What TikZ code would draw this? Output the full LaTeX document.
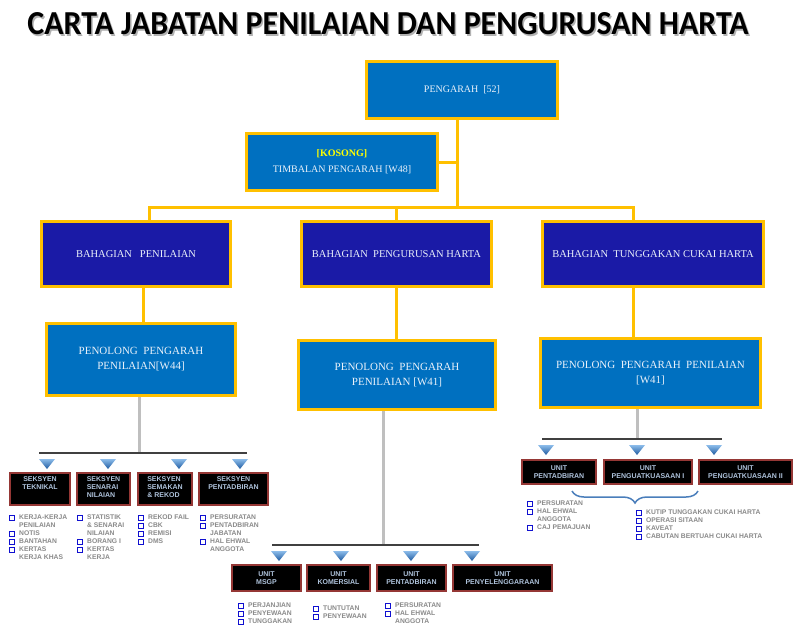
\documentclass[tikz,border=0pt]{standalone}
\usepackage{fontspec}
\setmainfont{Liberation Serif}
\setsansfont{Liberation Sans}
\newfontfamily\titlefont{Carlito}
\usetikzlibrary{decorations.pathreplacing}
\definecolor{boxblue}{HTML}{0070C0}
\definecolor{gold}{HTML}{FFC000}
\definecolor{navy}{RGB}{26,26,166}
\definecolor{darkred}{HTML}{953735}
\definecolor{bustone}{HTML}{404040}
\definecolor{stem}{HTML}{BFBFBF}
\definecolor{lbtext}{RGB}{175,195,220}
\definecolor{listgray}{HTML}{8A8A8A}
\definecolor{bulblue}{HTML}{1010D0}
\definecolor{bracec}{HTML}{4A7EBB}
\definecolor{tritop}{HTML}{8CBCEA}
\definecolor{tribot}{HTML}{1E5AA0}
\definecolor{boxtext}{HTML}{EAF1FA}
\definecolor{kosong}{HTML}{FFFF00}
\newcommand{\sqb}{\raisebox{-0.2pt}{\fboxsep=0pt\fboxrule=0.9pt\fcolorbox{bulblue}{white}{\rule{0pt}{3.7pt}\hspace{3.7pt}}}}
\newcommand{\blist}[1]{\begin{tabular}[t]{@{}l@{\hspace{4.5pt}}l@{}}#1\end{tabular}}
\newcommand{\tri}[2]{\shade[top color=tritop,bottom color=tribot] (#1-8,#2) -- (#1+8,#2) -- (#1,#2+10) -- cycle;}
\tikzset{
  bigbox/.style={draw=gold, line width=3pt, fill=boxblue, text=boxtext, align=center, inner sep=2pt, font=\fontsize{11}{15}\selectfont},
  navybox/.style={bigbox, fill=navy, font=\fontsize{10.5}{13}\selectfont},
  yl/.style={draw=gold, line width=3pt},
  busline/.style={draw=bustone, line width=2.5pt},
  stemline/.style={draw=stem, line width=3pt},
  blk/.style={draw=darkred, line width=2pt, fill=black, inner sep=0pt},
  blktext/.style={text=lbtext, font=\sffamily\bfseries\fontsize{7}{8}\selectfont, align=center, inner sep=0pt},
  lst/.style={text=listgray, font=\sffamily\bfseries\fontsize{6.75}{8}\selectfont, inner sep=0pt, anchor=base west},
}
\begin{document}
\begin{tikzpicture}[x=1pt,y=-1pt]
\useasboundingbox (0,0) rectangle (794,633);
\fill[white] (0,0) rectangle (794,633);

% title
\node[inner sep=0pt, text=black!30] (titleshadow) at (389.5,25.5) {\resizebox{721pt}{22pt}{\titlefont\bfseries CARTA JABATAN PENILAIAN DAN PENGURUSAN HARTA}};
\node[inner sep=0pt, text=black] (title) at (388,24) {\resizebox{721pt}{22pt}{\titlefont\bfseries CARTA JABATAN PENILAIAN DAN PENGURUSAN HARTA}};

% connectors (yellow)
\coordinate (busL) at (149,207);
\coordinate (busR) at (633,207);
\coordinate (pv) at (457,207);
\coordinate (bm) at (396,207);
\coordinate (v1) at (143,300);

% top boxes
\node[bigbox, font=\fontsize{10}{13}\selectfont, minimum width=191pt, minimum height=57pt] (peng) at (462,90) {PENGARAH\ \ [52]};
\node[bigbox, font=\fontsize{10}{16}\selectfont, minimum width=191pt, minimum height=57pt] (timb) at (342,162) {\textcolor{kosong}{\textbf{[KOSONG]}}\\{}TIMBALAN PENGARAH [W48]};

% bahagian
\node[navybox, minimum width=189pt, minimum height=65pt] (b1) at (136,254) {BAHAGIAN\ \ \ PENILAIAN};
\node[navybox, minimum width=190pt, minimum height=65pt] (b2) at (396.5,254) {BAHAGIAN\ \ PENGURUSAN HARTA};
\node[navybox, minimum width=221pt, minimum height=65pt] (b3) at (653,254) {BAHAGIAN\ \ TUNGGAKAN CUKAI HARTA};

% penolong
\node[bigbox, minimum width=189pt, minimum height=72pt] (p1) at (141,359.5) {PENOLONG\ \ PENGARAH\\{}PENILAIAN[W44]};
\node[bigbox, minimum width=197pt, minimum height=69pt] (p2) at (397,375) {PENOLONG\ \ PENGARAH\\{}PENILAIAN\ [W41]};
\node[bigbox, minimum width=220pt, minimum height=69pt] (p3) at (650.5,373) {PENOLONG\ \ PENGARAH\ \ PENILAIAN\\{}[W41]};

\draw[yl] (peng.south -| pv) -- (pv);
\draw[yl] (timb.east) -- (timb.east -| pv);
\draw[yl] (busL |- b1.north) -- (busL) -- (busR) -- (busR |- b3.north);
\draw[yl] (bm) -- (bm |- b2.north);
\draw[yl] (b1.south -| v1) -- (p1.north -| v1);
\draw[yl] (b2.south -| bm) -- (p2.north -| bm);
\draw[yl] (b3.south -| busR) -- (p3.north -| busR);

% gray stems and buses
\coordinate (sL) at (139,453);
\coordinate (sM) at (383,545);
\coordinate (sR) at (637,439);
\coordinate (lb1) at (39,453);
\coordinate (lb2) at (247,453);
\coordinate (mb1) at (272,545);
\coordinate (mb2) at (479,545);
\coordinate (rb1) at (542,439);
\coordinate (rb2) at (722,439);
\draw[stemline] (p1.south -| sL) -- (sL);
\draw[stemline] (p2.south -| sM) -- (sM);
\draw[stemline] (p3.south -| sR) -- (sR);
\draw[busline] (lb1) -- (lb2);
\draw[busline] (mb1) -- (mb2);
\draw[busline] (rb1) -- (rb2);

% triangles
\tri{47}{459} \tri{108}{459} \tri{179}{459} \tri{240}{459}
\tri{279}{551} \tri{341}{551} \tri{411}{551} \tri{472}{551}
\tri{546}{445} \tri{637}{445} \tri{714}{445}

% left black boxes
\node[blk, minimum width=60pt, minimum height=32pt] (s1) at (40,489) {};
\node[blk, minimum width=53pt, minimum height=32pt] (s2) at (103.5,489) {};
\node[blk, minimum width=54pt, minimum height=32pt] (s3) at (165,489) {};
\node[blk, minimum width=69pt, minimum height=32pt] (s4) at (233.5,489) {};
\node[blktext, anchor=north, yshift=-4pt] (s1t) at (s1.north) {SEKSYEN\\TEKNIKAL};
\node[blktext, anchor=north, yshift=-4pt, align=left] (s2t) at (s2.north) {SEKSYEN\\SENARAI\\NILAIAN};
\node[blktext, anchor=north, yshift=-4pt, align=left] (s3t) at (s3.north) {SEKSYEN\\SEMAKAN\\\& REKOD};
\node[blktext, anchor=north, yshift=-4pt] (s4t) at (s4.north) {SEKSYEN\\PENTADBIRAN};

% middle black boxes
\node[blk, minimum width=69pt, minimum height=26pt] (u1) at (266.5,578) {};
\node[blk, minimum width=63pt, minimum height=26pt] (u2) at (338.5,578) {};
\node[blk, minimum width=69pt, minimum height=26pt] (u3) at (411.5,578) {};
\node[blk, minimum width=99pt, minimum height=26pt] (u4) at (502.5,578) {};
\node[blktext] (u1t) at (u1) {UNIT\\MSGP};
\node[blktext] (u2t) at (u2) {UNIT\\KOMERSIAL};
\node[blktext] (u3t) at (u3) {UNIT\\PENTADBIRAN};
\node[blktext] (u4t) at (u4) {UNIT\\PENYELENGGARAAN};

% right black boxes
\node[blk, minimum width=74pt, minimum height=24pt] (r1) at (559,472) {};
\node[blk, minimum width=88pt, minimum height=24pt] (r2) at (648,472) {};
\node[blk, minimum width=93pt, minimum height=24pt] (r3) at (745.5,472) {};
\node[blktext] (r1t) at (r1) {UNIT\\PENTADBIRAN};
\node[blktext] (r2t) at (r2) {UNIT\\PENGUATKUASAAN I};
\node[blktext] (r3t) at (r3) {UNIT\\PENGUATKUASAAN II};

% lists
\node[lst] (l1) at (9,519.5) {\blist{\sqb & KERJA-KERJA\\ & PENILAIAN\\ \sqb & NOTIS\\ \sqb & BANTAHAN\\ \sqb & KERTAS\\ & KERJA KHAS}};
\node[lst] (l2) at (77,519.5) {\blist{\sqb & STATISTIK\\ & \& SENARAI\\ & NILAIAN\\ \sqb & BORANG I\\ \sqb & KERTAS\\ & KERJA}};
\node[lst] (l3) at (138,519.5) {\blist{\sqb & REKOD FAIL\\ \sqb & CBK\\ \sqb & REMISI\\ \sqb & DMS}};
\node[lst] (l4) at (200,519.5) {\blist{\sqb & PERSURATAN\\ \sqb & PENTADBIRAN\\ & JABATAN\\ \sqb & HAL EHWAL\\ & ANGGOTA}};
\node[lst] (m1) at (238,607.5) {\blist{\sqb & PERJANJIAN\\ \sqb & PENYEWAAN\\ \sqb & TUNGGAKAN}};
\node[lst] (m2) at (313,610.5) {\blist{\sqb & TUNTUTAN\\ \sqb & PENYEWAAN}};
\node[lst] (m3) at (385,607.5) {\blist{\sqb & PERSURATAN\\ \sqb & HAL EHWAL\\ & ANGGOTA}};
\node[lst] (rl1) at (527,505.5) {\blist{\sqb & PERSURATAN\\ \sqb & HAL EHWAL\\ & ANGGOTA\\ \sqb & CAJ PEMAJUAN}};
\node[lst] (rl2) at (636,514.5) {\blist{\sqb & KUTIP TUNGGAKAN CUKAI HARTA\\ \sqb & OPERASI SITAAN\\ \sqb & KAVEAT\\ \sqb & CABUTAN BERTUAH CUKAI HARTA}};

% brace
\coordinate (brA) at (698,491);
\coordinate (brB) at (572,491);
\draw[bracec, line width=1.5pt, decorate, decoration={brace, amplitude=12pt}] (brA) -- (brB);
\end{tikzpicture}
\end{document}
